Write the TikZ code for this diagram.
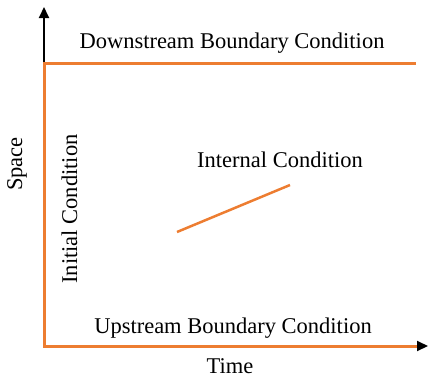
\documentclass[tikz,border=0pt]{standalone}
\usepackage{fontspec}
\setmainfont{Liberation Serif}
\usetikzlibrary{arrows.meta}
\definecolor{cond}{RGB}{237,125,49}
\begin{document}
\begin{tikzpicture}[x=1pt,y=-1pt,
  condline/.style={draw=cond,line width=3pt},
  axis/.style={draw=black,line width=2pt,-{Triangle[length=11pt,width=10pt]}},
  lbl/.style={font=\fontsize{22.5}{26}\selectfont,inner sep=0pt}]
\useasboundingbox (0,0) rectangle (428,378);
% axes
\coordinate (o) at (44,346);
\coordinate (ytop) at (44,7);
\coordinate (xend) at (428,346);
\draw[axis] (o) -- (ytop);
\draw[axis] (o) -- (xend);
% boundary and initial conditions
\coordinate (tl) at (44,63);
\coordinate (tr) at (416,63);
\coordinate (br) at (417,346);
\draw[condline,line join=miter] (tr) -- (tl) -- (o) -- (br);
% internal condition
\coordinate (ia) at (177,232);
\coordinate (ib) at (290,185);
\draw[condline,line width=2.5pt] (ia) -- (ib);
% labels
\node[lbl,anchor=base] (down) at (232,48) {Downstream Boundary Condition};
\node[lbl,anchor=base] (int) at (280,167) {Internal Condition};
\node[lbl,anchor=base] (up) at (233,333) {Upstream Boundary Condition};
\node[lbl,anchor=base] (time) at (230,373) {Time};
\node[lbl,rotate=90,anchor=base] (space) at (22,164) {Space};
\node[lbl,rotate=90,anchor=base] (init) at (77,209) {Initial Condition};
\end{tikzpicture}
\end{document}
